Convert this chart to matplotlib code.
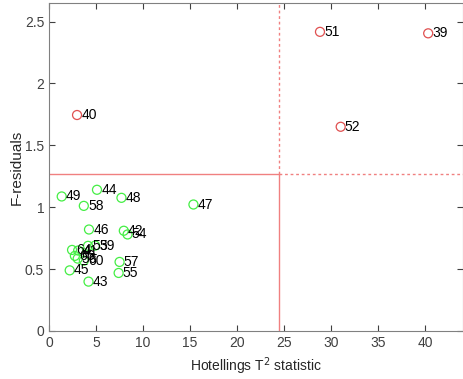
import matplotlib
matplotlib.use("Agg")
import matplotlib.pyplot as plt

plt.rcParams['font.family'] = ['Liberation Sans', 'DejaVu Sans']

# points inside the limits (green)
ok_ids = ["49", "44", "48", "58", "47", "46", "42", "54", "64", "41", "53", "59",
          "66", "56", "60", "45", "57", "55", "43"]
ok_t2 = [1.35, 5.1, 7.7, 3.7, 15.35, 4.25, 7.95, 8.35, 2.45, 3.1, 4.15, 4.9,
         2.75, 3.05, 3.7, 2.2, 7.5, 7.4, 4.2]
ok_f = [1.087, 1.141, 1.076, 1.011, 1.022, 0.82, 0.81, 0.78, 0.655, 0.65, 0.688, 0.69,
        0.607, 0.585, 0.568, 0.49, 0.558, 0.469, 0.399]

# outliers (red)
out_ids = ["51", "39", "52", "40"]
out_t2 = [28.8, 40.3, 31.0, 2.98]
out_f = [2.417, 2.405, 1.65, 1.745]

t2_lim = 24.4
f_lim = 1.268

fig = plt.figure(figsize=(4.64, 3.79), dpi=100)
ax = fig.add_axes([49 / 464, 48 / 379, 414 / 464, 328 / 379])

red = "#f08080"
ax.plot([0, t2_lim], [f_lim, f_lim], color=red, lw=1)
ax.plot([t2_lim, t2_lim], [0, f_lim], color=red, lw=1)
ax.plot([t2_lim, 44], [f_lim, f_lim], color=red, lw=1, ls=(0, (2, 2)))
ax.plot([t2_lim, t2_lim], [f_lim, 2.65], color=red, lw=1, ls=(0, (2, 2)))

ax.scatter(ok_t2, ok_f, s=42, facecolors="none", edgecolors="#44ee44", lw=0.9, zorder=3)
ax.scatter(out_t2, out_f, s=42, facecolors="none", edgecolors="#e05050", lw=0.9, zorder=3)

for i, t, f in zip(ok_ids + out_ids, ok_t2 + out_t2, ok_f + out_f):
    ax.annotate(i, (t, f), xytext=(3, 0), textcoords="offset points",
                va="center", ha="left", fontsize=10, color="black", zorder=4)

ax.set_xlim(0, 44)
ax.set_ylim(0, 2.65)
ax.set_xticks(range(0, 45, 5))
ax.set_yticks([0, 0.5, 1, 1.5, 2, 2.5])
ax.set_yticklabels(["0", "0.5", "1", "1.5", "2", "2.5"])
ax.tick_params(direction="in", top=True, right=True, labelsize=10, colors="#404040",
               length=4, width=0.8)
for sp in ax.spines.values():
    sp.set_color("#808080")
    sp.set_linewidth(0.8)

ax.set_xlabel("Hotellings T$^2$ statistic", fontsize=10, color="#262626")
ax.set_ylabel("F-residuals", fontsize=11, color="#262626", labelpad=1)

fig.savefig("out.png", dpi=100)
